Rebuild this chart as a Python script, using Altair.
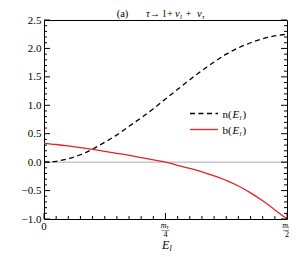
import altair as alt
import pandas as pd

SERIF = "Liberation Serif, Times New Roman, serif"

# ---- data (x = E_l / (m_tau/2)) ----
xs = [0.0, 0.05, 0.1, 0.15, 0.2, 0.25, 0.3, 0.35, 0.4, 0.45, 0.5,
      0.55, 0.6, 0.65, 0.7, 0.75, 0.8, 0.85, 0.9, 0.95, 1.0]
n_vals = [0.0, 0.015, 0.06, 0.13, 0.23, 0.35, 0.48, 0.63, 0.78, 0.94, 1.11,
          1.28, 1.45, 1.61, 1.76, 1.90, 2.01, 2.10, 2.17, 2.22, 2.25]
b_vals = [0.33, 0.31, 0.285, 0.255, 0.225, 0.19, 0.155, 0.12, 0.08, 0.04, 0.0,
          -0.055, -0.11, -0.17, -0.24, -0.32, -0.42, -0.54, -0.68, -0.84, -1.0]

y_major = [-1.0, -0.5, 0.0, 0.5, 1.0, 1.5, 2.0, 2.5]
y_minor = [-0.9, -0.8, -0.7, -0.6, -0.4, -0.3, -0.2, -0.1, 0.1, 0.2, 0.3, 0.4,
           0.6, 0.7, 0.8, 0.9, 1.1, 1.2, 1.3, 1.4, 1.6, 1.7, 1.8, 1.9,
           2.1, 2.2, 2.3, 2.4]
x_major = [0.0, 0.5, 1.0]
x_minor = [0.05, 0.1, 0.15, 0.2, 0.25, 0.3, 0.35, 0.4, 0.45,
           0.55, 0.6, 0.65, 0.7, 0.75, 0.8, 0.85, 0.9, 0.95]
x_frac_ticks = [0.5, 1.0]
x_frac_den = ["4", "2"]

W, H = 243, 199

df = pd.DataFrame({"x": xs, "n": n_vals, "b": b_vals})
xsc = alt.Scale(domain=[0, 1], nice=False, zero=False)
ysc = alt.Scale(domain=[-1.0, 2.5], nice=False, zero=False)

YAXIS = alt.Axis(values=y_major, format=".1f", ticks=False, domain=False, grid=False,
                 labelFont=SERIF, labelFontSize=11, labelColor="black", labelPadding=3,
                 labelOverlap=False, labelBound=False, title=None)
XAXIS = alt.Axis(labels=False, ticks=False, domain=False, grid=False, title=None)


def XE(field):
    return alt.X(field, scale=xsc, axis=XAXIS)


def YE(field):
    return alt.Y(field, scale=ysc, axis=YAXIS)


zero_line = alt.Chart(pd.DataFrame({"y": [0.0]})).mark_rule(color="#aaaaaa", strokeWidth=1).encode(
    y=YE("y:Q"))

n_line = alt.Chart(df).mark_line(color="black", strokeWidth=1.3, strokeDash=[5, 3.5],
                                 interpolate="monotone").encode(x=XE("x:Q"), y=YE("n:Q"))
b_line = alt.Chart(df).mark_line(color="#e8202a", strokeWidth=1.3,
                                 interpolate="monotone").encode(x=XE("x:Q"), y=YE("b:Q"))


def yticks(vals, length):
    d = pd.DataFrame({"v": vals})
    left = alt.Chart(d).mark_rule(color="black", strokeWidth=1).encode(
        y=YE("v:Q"), x=alt.value(0), x2=alt.value(length))
    right = alt.Chart(d).mark_rule(color="black", strokeWidth=1).encode(
        y=YE("v:Q"), x=alt.value(W), x2=alt.value(W - length))
    return [left, right]


def xticks(vals, length):
    d = pd.DataFrame({"v": vals})
    return [alt.Chart(d).mark_rule(color="black", strokeWidth=1).encode(
        x=XE("v:Q"), y=alt.value(H), y2=alt.value(H - length))]


one = pd.DataFrame({"a": [0]})


def txt(s, x, y, size=11, italic=False, align="left", color="black"):
    return alt.Chart(one).mark_text(text=s, font=SERIF, fontSize=size,
                                    fontStyle="italic" if italic else "normal",
                                    align=align, baseline="alphabetic", color=color).encode(
        x=alt.value(x), y=alt.value(y))


layers = [zero_line, n_line, b_line]
layers += yticks(y_major, 6) + yticks(y_minor, 3)
layers += xticks(x_major, 6) + xticks(x_minor, 3)

# x tick labels
layers.append(alt.Chart(pd.DataFrame({"v": [0.0], "t": ["0"]})).mark_text(
    font=SERIF, fontSize=11, baseline="alphabetic", color="black").encode(
    x=XE("v:Q"), y=alt.value(H + 11), text="t:N"))
frac = pd.DataFrame({"v": x_frac_ticks, "d": x_frac_den})
layers.append(alt.Chart(frac).mark_text(text="m", font=SERIF, fontSize=8, fontStyle="italic",
                                        baseline="alphabetic", align="right", dx=1, color="black").encode(
    x=XE("v:Q"), y=alt.value(H + 9)))
layers.append(alt.Chart(frac).mark_text(text="τ", font=SERIF, fontSize=6, fontStyle="italic",
                                        baseline="alphabetic", align="left", dx=1, color="black").encode(
    x=XE("v:Q"), y=alt.value(H + 10)))
layers.append(alt.Chart(frac).mark_text(font=SERIF, fontSize=8, baseline="alphabetic",
                                        color="black").encode(
    x=XE("v:Q"), y=alt.value(H + 18), text="d:N"))
layers.append(alt.Chart(frac).mark_tick(color="black", thickness=0.6, size=8,
                                        orient="horizontal").encode(
    x=XE("v:Q"), y=alt.value(H + 11.5)))

# axis title E_l
layers += [txt("E", 118, H + 30, 12, italic=True), txt("l", 125.5, H + 32, 8, italic=True)]

# title
TY = -3.5
layers += [
    txt("(a)", 78.5, TY, 10.5, align="center"),
    txt("τ", 102, TY, 10.5, italic=True),
    txt("→", 111, TY, 10.5, align="center"),
    txt("l", 119, TY, 10.5),
    txt("+", 126, TY, 10.5, align="center"),
    txt("ν", 131, TY, 10.5, italic=True),
    txt("l", 136, TY + 2, 7, italic=True),
    txt("+", 144.5, TY, 10.5, align="center"),
    txt("ν", 153, TY, 10.5, italic=True),
    txt("τ", 158, TY + 2, 7, italic=True),
]

# legend
legend_n = alt.Chart(one).mark_rule(color="black", strokeWidth=1.3, strokeDash=[5, 3.5]).encode(
    x=alt.value(146), x2=alt.value(174), y=alt.value(93.5))
legend_b = alt.Chart(one).mark_rule(color="#e8202a", strokeWidth=1.3).encode(
    x=alt.value(146), x2=alt.value(174), y=alt.value(109.5))
layers += [legend_n, legend_b]
for lab, ly in [("n", 97.5), ("b", 113.5)]:
    layers += [txt(lab + "(", 178.5, ly, 11),
               txt("E", 188.5, ly, 11, italic=True),
               txt("l", 195.5, ly + 2, 7, italic=True),
               txt(")", 198.5, ly, 11)]

chart = alt.layer(*layers).properties(
    width=W, height=H,
    autosize=alt.AutoSizeParams(type="none"),
    padding={"left": 36, "top": 12, "right": 2, "bottom": 37},
).configure_view(stroke="black", strokeWidth=1)

chart.save("out.html", embed_options={"renderer": "svg", "actions": False})
